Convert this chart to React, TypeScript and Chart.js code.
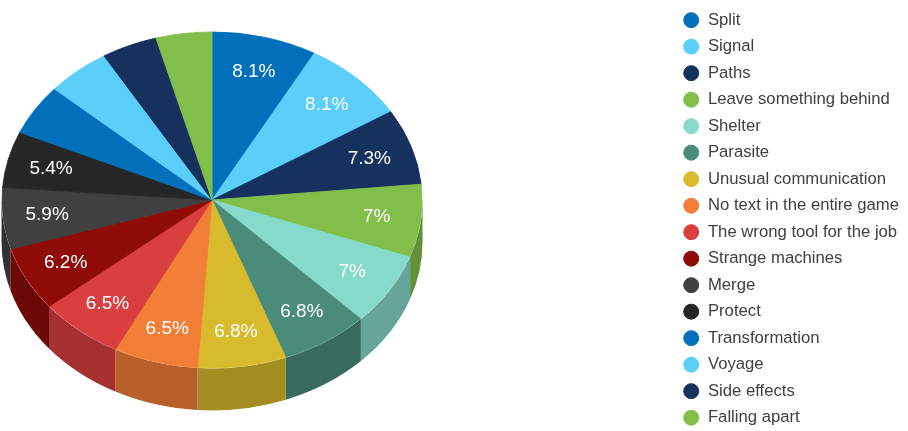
import { useEffect, useRef } from "react";
import { Chart, PieController, ArcElement, Legend } from "chart.js";

Chart.register(PieController, ArcElement, Legend);

// slice names, in drawing order (clockwise from 12 o'clock)
const categories = [
  "Split",
  "Signal",
  "Paths",
  "Leave something behind",
  "Shelter",
  "Parasite",
  "Unusual communication",
  "No text in the entire game",
  "The wrong tool for the job",
  "Strange machines",
  "Merge",
  "Protect",
  "Transformation",
  "Voyage",
  "Side effects",
  "Falling apart",
];

// share of each slice, in %
const shares = [8.1, 8.1, 7.3, 7, 7, 6.8, 6.8, 6.5, 6.5, 6.2, 5.9, 5.4, 4.9, 4.9, 4.3, 4.3];

const sliceColors = [
  "#0070ba", "#5bcefa", "#15325f", "#82bf4a",
  "#86d9cb", "#4a8b7a", "#d8bb2c", "#f37e37",
  "#da3f3f", "#8e0b07", "#404040", "#262626",
  "#0070ba", "#5bcefa", "#15325f", "#82bf4a",
];

const FONT = "'Liberation Sans', Arial, sans-serif";
const TILT = 0.8; // vertical squash of the top face
const DEPTH = 42; // height of the pie wall
const LABEL_MIN = 5; // smaller slices get no label
const LABEL_POS = 0.79; // label distance as part of the radius

const shade = (hex: string, f: number) => {
  const n = parseInt(hex.slice(1), 16);
  const r = Math.round(((n >> 16) & 255) * f);
  const g = Math.round(((n >> 8) & 255) * f);
  const b = Math.round((n & 255) * f);
  return `rgb(${r},${g},${b})`;
};

// fake 3d: draw the front wall, then squash the pie itself into an ellipse
const pie3d = {
  id: "pie3d",
  beforeDatasetsDraw(chart: any) {
    const arcs = chart.getDatasetMeta(0).data as any[];
    if (!arcs.length) return;
    const { x, y } = arcs[0];
    const r = arcs[0].outerRadius + 0.5;
    const cy = y - DEPTH / 2;
    const ctx: CanvasRenderingContext2D = chart.ctx;

    arcs.forEach((arc, i) => {
      const s = Math.max(arc.startAngle, 0);
      const e = Math.min(arc.endAngle, Math.PI);
      if (s >= e) return;
      ctx.beginPath();
      ctx.ellipse(x, cy, r, r * TILT, 0, s, e);
      ctx.ellipse(x, cy + DEPTH, r, r * TILT, 0, e, s, true);
      ctx.closePath();
      ctx.fillStyle = shade(sliceColors[i], 0.76);
      ctx.fill();
    });

    ctx.save();
    ctx.translate(0, cy);
    ctx.scale(1, TILT);
    ctx.translate(0, -y);
  },
  afterDatasetsDraw(chart: any) {
    const ctx: CanvasRenderingContext2D = chart.ctx;
    ctx.restore();
    const arcs = chart.getDatasetMeta(0).data as any[];
    if (!arcs.length) return;
    const { x, y, outerRadius } = arcs[0];
    const cy = y - DEPTH / 2;
    ctx.save();
    ctx.fillStyle = "#ffffff";
    ctx.font = `19px ${FONT}`;
    ctx.textAlign = "center";
    ctx.textBaseline = "middle";
    arcs.forEach((arc, i) => {
      if (shares[i] < LABEL_MIN) return;
      const a = (arc.startAngle + arc.endAngle) / 2;
      const lr = outerRadius * LABEL_POS;
      ctx.fillText(`${shares[i]}%`, x + Math.cos(a) * lr, cy + Math.sin(a) * lr * TILT + 0.5);
    });
    ctx.restore();
  },
};

const PieChart = () => {
  const canvasRef = useRef<HTMLCanvasElement>(null);

  useEffect(() => {
    if (!canvasRef.current) return;
    const chart = new Chart(canvasRef.current, {
      type: "pie",
      data: {
        labels: categories,
        datasets: [
          {
            data: shares,
            backgroundColor: sliceColors,
            borderColor: sliceColors,
            borderWidth: 1,
            radius: 210,
          },
        ],
      },
      options: {
        animation: false,
        responsive: true,
        maintainAspectRatio: false,
        events: [],
        plugins: {
          tooltip: { enabled: false },
          legend: {
            position: "right",
            align: "start",
            labels: {
              usePointStyle: true,
              pointStyle: "circle",
              boxWidth: 16.7,
              boxHeight: 10.6,
              padding: 9.8,
              color: "#404040",
              font: { family: FONT, size: 16.7 },
            },
          },
        },
      },
      plugins: [pie3d],
    });
    return () => chart.destroy();
  }, []);

  return (
    <div style={{ position: "fixed", left: 0, top: 0, width: 908, height: 431, overflow: "hidden", background: "#fff" }}>
      {/* canvas is wider/taller than the window so the pie sits at the left edge */}
      <div style={{ position: "absolute", left: -249, top: 2, width: 1158, height: 438 }}>
        <canvas ref={canvasRef}></canvas>
      </div>
    </div>
  );
};

export default function App() {
  return <PieChart />;
}
